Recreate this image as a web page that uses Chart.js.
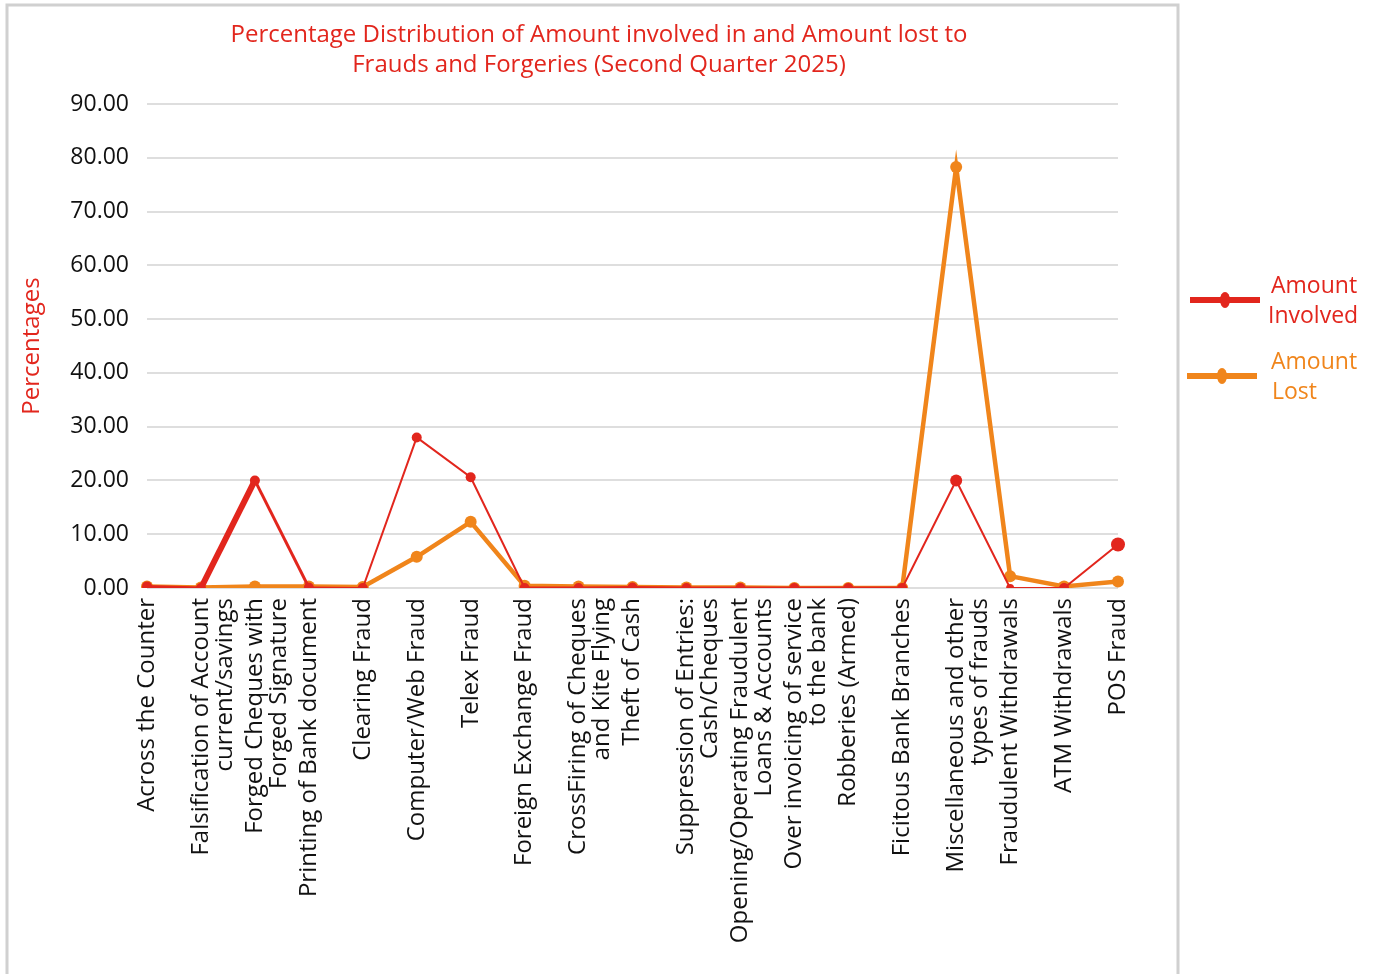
<!DOCTYPE html>
<html>
<head>
<meta charset="utf-8">
<script src="https://cdn.jsdelivr.net/npm/chart.js@4.4.1/dist/chart.umd.min.js"></script>
<style>
  html, body { margin: 0; padding: 0; background: #ffffff; }
  #wrap { position: relative; width: 1381px; height: 974px; }
</style>
</head>
<body>
<div id="wrap"><canvas id="grafico" width="1381" height="974"></canvas></div>
<script>
// categorie di frode
var categorie = [
  "Across the Counter",
  ["Falsification of Account", "current/savings"],
  ["Forged Cheques with", "Forged Signature"],
  "Printing of Bank document",
  "Clearing Fraud",
  "Computer/Web Fraud",
  "Telex Fraud",
  "Foreign Exchange Fraud",
  ["CrossFiring of Cheques", "and Kite Flying"],
  "Theft of Cash",
  ["Suppression of Entries:", "Cash/Cheques"],
  ["Opening/Operating Fraudulent", "Loans & Accounts"],
  ["Over invoicing of service", "to the bank"],
  "Robberies (Armed)",
  "Ficitous Bank Branches",
  ["Miscellaneous and other", "types of frauds"],
  "Fraudulent Withdrawals",
  "ATM Withdrawals",
  "POS Fraud"
];

// percentuali
var importoCoinvolto = [0.3, 0, 20.0, 0.1, 0, 28.0, 20.6, 0, 0, 0.1, 0, 0, 0, 0, 0, 20.0, 0, 0, 8.1];
var importoPerso = [0.3, 0.1, 0.3, 0.3, 0.2, 5.8, 12.3, 0.4, 0.3, 0.2, 0.1, 0.1, 0, 0, 0, 78.3, 2.2, 0.3, 1.2];

var ticksY = [0, 10, 20, 30, 40, 50, 60, 70, 80, 90];

var rosso = '#e2261d';
var arancio = '#f0851b';
var font = "'Open Sans', sans-serif";

// spessore linea rossa per segmento
var spessoriRosso = [3, 6, 3, 2, 2, 2, 2, 3, 3, 3, 3, 3, 3, 3, 2, 2, 2, 2];

// cornice grigia e legenda a destra
var cornice = {
  id: 'cornice',
  beforeDraw: function(chart) {
    var c = chart.ctx;
    c.save();
    c.fillStyle = '#ffffff';
    c.fillRect(0, 0, chart.width, chart.height);
    c.strokeStyle = '#d0d0d0';
    c.lineWidth = 3;
    c.beginPath();
    c.moveTo(7, 980);
    c.lineTo(7, 5);
    c.lineTo(1178, 5);
    c.lineTo(1178, 980);
    c.stroke();
    c.restore();
  },
  afterDraw: function(chart) {
    var c = chart.ctx;
    var voci = [
      { testo: ['Amount', 'Involved'], colore: rosso, y: 300, x0: 1190, x1: 1260, xt: [1271, 1268] },
      { testo: ['Amount', 'Lost'], colore: arancio, y: 376, x0: 1187, x1: 1257, xt: [1271, 1272] }
    ];
    c.save();
    voci.forEach(function(v) {
      c.strokeStyle = v.colore;
      c.lineWidth = 6;
      c.beginPath();
      c.moveTo(v.x0, v.y);
      c.lineTo(v.x1, v.y);
      c.stroke();
      c.fillStyle = v.colore;
      c.beginPath();
      c.ellipse((v.x0 + v.x1) / 2, v.y, 5, 8, 0, 0, Math.PI * 2);
      c.fill();
      c.font = '23px ' + font;
      c.textBaseline = 'middle';
      c.fillText(v.testo[0], v.xt[0], v.y - 14);
      c.fillText(v.testo[1], v.xt[1], v.y + 16);
    });
    c.restore();
  }
};

var ctx = document.getElementById('grafico');
var chart = new Chart(ctx, {
  type: 'line',
  data: {
    labels: categorie,
    datasets: [{
      label: 'Amount Involved',
      data: importoCoinvolto,
      borderColor: rosso,
      backgroundColor: rosso,
      borderWidth: 2,
      pointRadius: [5, 5, 5, 5, 5, 5, 5, 5, 5, 5, 5, 5, 5, 5, 5, 6, 4, 5, 7],
      pointBorderWidth: 0,
      tension: 0,
      order: 0,
      segment: {
        borderWidth: function(s) { return spessoriRosso[s.p0DataIndex]; }
      }
    }, {
      label: 'Amount Lost',
      data: importoPerso,
      borderColor: arancio,
      backgroundColor: arancio,
      borderWidth: 4.5,
      pointRadius: 6,
      pointBorderWidth: 0,
      tension: 0,
      order: 1
    }]
  },
  options: {
    responsive: false,
    animation: false,
    layout: { padding: { left: 14, right: 1381 - 1184, top: 12, bottom: 0 } },
    plugins: {
      legend: { display: false },
      tooltip: { enabled: false },
      title: {
        display: true,
        text: ['Percentage Distribution of Amount involved in and Amount lost to', 'Frauds and Forgeries (Second Quarter 2025)'],
        color: rosso,
        font: { family: font, size: 24, weight: 'normal', lineHeight: 1.25 },
        padding: { top: 8, bottom: 24 }
      }
    },
    scales: {
      x: {
        offset: false,
        grid: { display: false, drawTicks: false },
        border: { display: false },
        ticks: {
          color: '#111111',
          maxRotation: 90,
          minRotation: 90,
          autoSkip: false,
          padding: 10,
          font: { family: font, size: 24, lineHeight: 1.0 }
        },
        afterFit: function(scale) { scale.height = 974 - 588; }
      },
      y: {
        min: 0,
        max: 90,
        grid: { color: '#dedede', lineWidth: 2, drawTicks: false },
        border: { display: false },
        afterBuildTicks: function(scale) {
          scale.ticks = ticksY.map(function(v) { return { value: v }; });
        },
        ticks: {
          color: '#111111',
          padding: 18,
          font: { family: font, size: 23 },
          callback: function(v) { return v.toFixed(2); }
        },
        title: {
          display: true,
          text: 'Percentages',
          color: rosso,
          font: { family: font, size: 24 },
          padding: { top: 4, bottom: 10 }
        },
        afterFit: function(scale) { scale.width = 147 - 14; }
      },
      // asse vuoto per lasciare spazio a destra dell'area dati
      destra: {
        type: 'linear',
        position: 'right',
        min: 0,
        max: 90,
        grid: { display: false, drawTicks: false },
        border: { display: false },
        ticks: { display: false },
        afterFit: function(scale) { scale.width = 1184 - 1118; }
      }
    }
  },
  plugins: [cornice]
});
</script>
</body>
</html>
